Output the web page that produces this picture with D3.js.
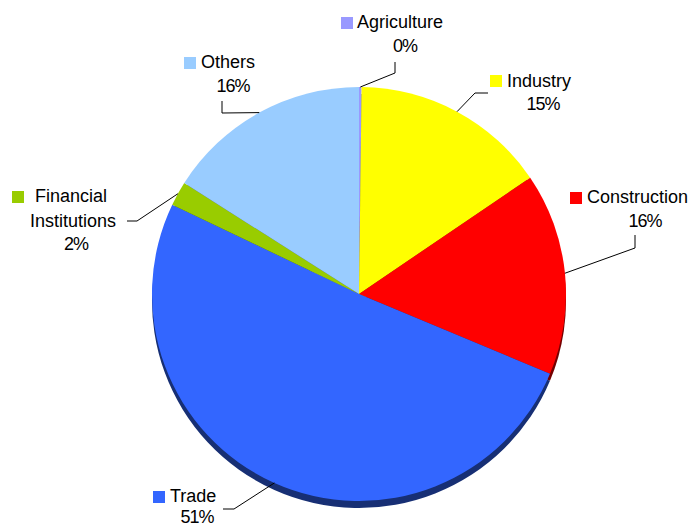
<!DOCTYPE html>
<html>
<head>
<meta charset="utf-8">
<script src="https://d3js.org/d3.v7.min.js"></script>
<style>
  body { margin: 0; background: #fff; }
  svg { display: block; }
  text { font-family: "Liberation Sans", Arial, sans-serif; font-size: 18px; fill: #000; }
</style>
</head>
<body>
<svg id="chart" width="699" height="527"></svg>
<script>
// sectors, clockwise from 12 o'clock
var categories = ['Agriculture', 'Industry', 'Construction', 'Trade', 'Financial Institutions', 'Others']
var values = [0.2, 15.3, 15.8, 50.8, 1.9, 16.0]
var pctLabels = ['0%', '15%', '16%', '51%', '2%', '16%']
var colors = ['#9999FF', '#FFFF00', '#FF0000', '#3366FF', '#99CC00', '#99CCFF']

// label placement (layout only)
var labelLayout = [
	{ sq: [341, 17], lines: [['Agriculture', 357, 28]], pct: [405, 52], elbow: [395, 73], end: [395, 62] },
	{ sq: [490, 75], lines: [['Industry', 507, 87]], pct: [543, 110], elbow: [475, 93], end: [488, 93] },
	{ sq: [570, 192], lines: [['Construction', 587, 203]], pct: [645, 227], elbow: [635, 248], end: [635, 235] },
	{ sq: [153, 491], lines: [['Trade', 170, 502]], pct: [197, 523], elbow: [234, 509], end: [223, 509] },
	{ sq: [12, 191], lines: [['Financial', 35, 202], ['Institutions', 30, 227]], pct: [76, 250], elbow: [137, 221], end: [127, 221] },
	{ sq: [184, 57], lines: [['Others', 201, 68]], pct: [233, 92], elbow: [222, 113], end: [222, 101] }
]

var svg = d3.select('#chart')
var cx = 359, cy = 294, radius = 207, depth = 7

var data = categories.map(function (c, i) { return { name: c, value: values[i], color: colors[i], i: i } })

var pie = d3.pie()
	.value(function (d) { return d.value })
	.sort(null)
var arcs = pie(data)
var arc = d3.arc().innerRadius(0).outerRadius(radius)

// darker rim underneath for the raised look
svg.append('g')
	.attr('transform', 'translate(' + cx + ',' + (cy + depth) + ')')
	.selectAll('path')
	.data(arcs)
	.enter()
	.append('path')
	.attr('d', arc)
	.style('fill', function (d) { return d3.color(d.data.color).darker(2.2) })

svg.append('g')
	.attr('transform', 'translate(' + cx + ',' + cy + ')')
	.selectAll('path')
	.data(arcs)
	.enter()
	.append('path')
	.attr('d', arc)
	.style('fill', function (d) { return d.data.color })

// leader lines
svg.append('g')
	.selectAll('polyline')
	.data(arcs)
	.enter()
	.append('polyline')
	.attr('points', function (d) {
		var a = (d.startAngle + d.endAngle) / 2
		var lay = labelLayout[d.data.i]
		var p = [cx + radius * Math.sin(a), cy - radius * Math.cos(a)]
		return [p, lay.elbow, lay.end].map(function (q) { return q.join(',') }).join(' ')
	})
	.style('fill', 'none')
	.style('stroke', '#000')
	.style('stroke-width', 1)

// labels
var labels = svg.append('g')
	.selectAll('g')
	.data(data)
	.enter()
	.append('g')

labels.append('rect')
	.attr('x', function (d) { return labelLayout[d.i].sq[0] })
	.attr('y', function (d) { return labelLayout[d.i].sq[1] })
	.attr('width', 12)
	.attr('height', 12)
	.style('fill', function (d) { return d.color })

labels.each(function (d) {
	var g = d3.select(this)
	labelLayout[d.i].lines.forEach(function (l) {
		g.append('text')
			.attr('x', l[1])
			.attr('y', l[2])
			.text(l[0])
	})
	g.append('text')
		.attr('x', labelLayout[d.i].pct[0])
		.attr('y', labelLayout[d.i].pct[1])
		.attr('text-anchor', 'middle')
		.style('letter-spacing', '-1px')
		.text(pctLabels[d.i])
})
</script>
</body>
</html>
